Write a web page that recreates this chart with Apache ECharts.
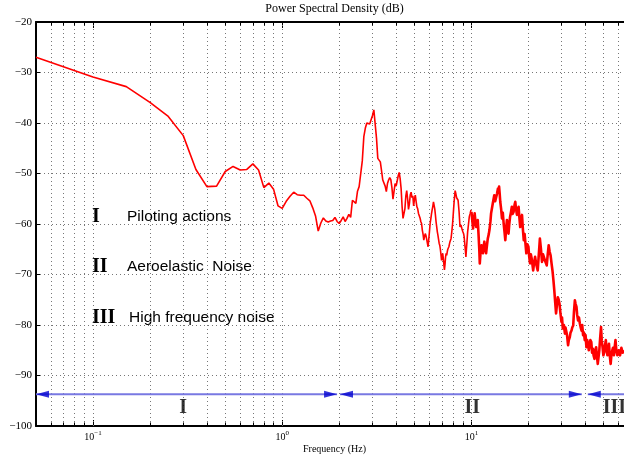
<!DOCTYPE html>
<html><head><meta charset="utf-8">
<script src="https://cdn.jsdelivr.net/npm/echarts@6/dist/echarts.min.js"></script>
<style>html,body{margin:0;padding:0;background:#fff}#c{width:624px;height:459px}</style>
</head><body><div id="c"></div>
<script>
// ---- data ----
const freqLow = [
0.05,0.10,0.15,0.20,0.25,0.30,0.35,0.40,0.45,0.50,
0.55,0.60,0.65,0.70,0.75,0.80,0.85,0.90,0.95,1.00,
1.05,1.10,1.15,1.20,1.25,1.30,1.35,1.40,1.45,1.50,
1.55,1.60,1.65,1.70,1.75,1.80,1.85,1.90,1.95,2.00,
2.05,2.10,2.15,2.20,2.25,2.30,2.35,2.40,2.45,2.50,
2.55,2.60,2.65,2.70,2.75,2.80,2.85,2.90,2.95,3.00,
3.05,3.10,3.15,3.20,3.25,3.30,3.35,3.40,3.45,3.50,
3.55,3.60,3.65,3.70,3.75,3.80,3.85,3.90,3.95,4.00,
4.05,4.10,4.15,4.20,4.25,4.30,4.35,4.40,4.45,4.50,
4.55,4.60,4.65,4.70,4.75,4.80,4.85,4.90,4.95,5.00,
5.05,5.10,5.15,5.20,5.25,5.30,5.35,5.40,5.45,5.50,
5.55,5.60,5.65,5.70,5.75,5.80,5.85,5.90,5.95,6.00,
6.05,6.10,6.15,6.20,6.25,6.30,6.35,6.40,6.45,6.50,
6.55,6.60,6.65,6.70,6.75,6.80,6.85,6.90,6.95,7.00,
7.05,7.10,7.15,7.20,7.25,7.30,7.35,7.40,7.45,7.50,
7.55,7.60,7.65,7.70,7.75,7.80,7.85,7.90,7.95,8.00,
8.05,8.10,8.15,8.20,8.25,8.30,8.35,8.40,8.45,8.50,
8.55,8.60,8.65,8.70,8.75,8.80,8.85,8.90,8.95,9.00,
9.05,9.10,9.15,9.20,9.25,9.30,9.35,9.40,9.45,9.50,
9.55,9.60,9.65,9.70,9.75,9.80,9.85,9.90,9.95,10.00
];
const psdLow = [
-27.0,-30.9,-32.8,-35.9,-38.7,-42.5,-49.2,-52.6,-52.5,-49.6,
-48.6,-49.3,-49.2,-48.1,-49.3,-52.8,-51.9,-53.1,-56.4,-56.9,
-55.5,-54.5,-53.7,-54.2,-54.3,-54.3,-54.9,-55.4,-56.8,-58.4,
-61.4,-59.8,-58.8,-59.4,-59.6,-59.4,-59.3,-58.7,-59.5,-59.9,
-59.3,-58.6,-59.5,-58.9,-58.1,-58.7,-55.3,-55.2,-55.9,-53.5,
-52.6,-52.6,-47.5,-42.7,-41.0,-40.0,-39.8,-40.2,-40.4,-38.5,
-37.4,-37.3,-43.0,-47.0,-47.2,-47.7,-49.5,-51.3,-51.4,-52.5,
-53.6,-52.0,-51.3,-50.8,-51.2,-52.8,-55.1,-53.5,-52.0,-52.5,
-52.6,-50.5,-49.8,-51.0,-53.0,-56.5,-58.9,-59.2,-57.0,-54.5,
-53.4,-55.0,-57.1,-56.0,-54.2,-53.7,-54.8,-54.4,-56.4,-55.0,
-54.3,-55.5,-56.6,-57.0,-57.9,-57.9,-58.8,-59.5,-59.9,-61.2,
-62.0,-63.2,-62.5,-61.9,-62.3,-63.0,-63.8,-64.5,-63.0,-61.5,
-59.9,-59.0,-58.0,-57.2,-56.5,-55.6,-55.8,-57.0,-58.2,-59.5,
-60.5,-61.5,-62.2,-63.0,-63.8,-64.2,-65.0,-66.0,-67.2,-66.5,
-65.8,-66.8,-68.0,-69.1,-68.0,-66.5,-65.8,-66.2,-65.5,-65.0,
-64.8,-64.5,-64.0,-63.5,-63.2,-62.9,-62.0,-61.0,-59.9,-58.5,
-57.0,-55.6,-54.5,-53.4,-53.8,-54.0,-54.8,-54.5,-55.0,-55.3,
-55.6,-57.5,-59.0,-60.6,-60.4,-60.2,-60.5,-60.9,-61.2,-61.5,
-61.8,-62.0,-62.5,-63.5,-64.5,-65.5,-66.5,-65.2,-64.0,-62.8,
-61.5,-60.8,-60.0,-59.2,-58.5,-58.2,-57.9,-57.5,-57.2,-57.6
];
const freqHigh = [
10.0,10.2,10.3,10.4,10.5,10.6,10.7,10.8,10.9,11.0,11.07,
11.2,11.3,11.4,11.5,11.6,11.7,11.8,11.95,12.1,12.2,
12.35,12.45,12.6,12.7,12.85,12.97,13.1,13.2,13.35,13.5,
13.65,13.8,13.9,14.0,14.1,14.2,14.35,14.5,14.65,14.8,
14.95,15.1,15.25,15.4,15.55,15.7,15.85,16.0,16.2,16.35,
16.5,16.7,16.9,17.05,17.2,17.4,17.6,17.75,17.9,18.1,
18.3,18.5,18.7,18.9,19.1,19.3,19.5,19.75,20.0,20.2,
20.4,20.6,20.8,21.0,21.2,21.45,21.7,22.0,22.4,22.7,
23.0,23.3,23.6,23.9,24.3,24.6,25.0,25.3,25.6,25.9,
26.2,26.5,26.8,27.1,27.4,27.7,28.0,28.3,28.6,28.9,
29.2,29.5,29.9,30.1,30.4,30.8,31.2,31.4,31.7,32.0,
32.4,32.7,33.1,33.4,33.8,34.1,34.5,34.8,35.2,35.5,
35.9,36.2,36.6,37.0,37.4,37.8,38.2,38.5,38.9,39.3,
39.7,40.1,40.5,40.9,41.3,41.7,42.1,42.5,43.0,43.4,
43.8,44.2,44.7,45.1,45.6,46.0,46.5,46.9,47.4,47.9,
48.4,48.8,49.3,49.8,50.3,50.8,51.3,51.8,52.3,52.8,
53.3,53.8,54.4,54.9,55.5,56.0,56.6,57.1,57.7,58.3,
59.0,60.0,61.0,62.0,63.0,64.0
];
const psdHigh = [
-57.6,-60.9,-59.0,-57.9,-59.5,-60.6,-59.8,-59.2,-62.0,-65.0,-67.8,
-65.0,-64.2,-65.2,-65.8,-64.5,-63.5,-64.8,-65.8,-64.0,-62.9,
-62.0,-61.2,-59.5,-57.9,-56.8,-55.9,-55.0,-54.3,-55.5,-55.2,
-54.0,-53.0,-53.8,-52.6,-54.0,-55.6,-57.0,-58.9,-57.8,-59.9,
-61.5,-63.2,-61.0,-59.2,-60.5,-61.9,-60.0,-58.6,-57.5,-56.6,
-58.0,-57.6,-56.2,-55.6,-57.0,-58.2,-57.0,-56.6,-58.5,-60.6,
-59.0,-58.2,-61.0,-63.2,-62.0,-62.2,-65.8,-64.0,-64.5,-66.5,
-67.8,-66.0,-66.8,-68.0,-69.2,-67.5,-66.5,-68.0,-69.2,-66.0,
-62.9,-65.0,-67.5,-66.0,-66.2,-67.5,-68.2,-66.0,-64.2,-65.5,
-66.2,-67.8,-69.2,-71.0,-73.1,-75.5,-77.7,-76.0,-74.5,-75.0,
-75.8,-77.5,-79.4,-78.5,-80.7,-80.0,-81.7,-80.5,-80.4,-82.0,
-84.0,-83.0,-82.4,-81.5,-81.1,-80.5,-80.1,-77.5,-75.1,-75.8,
-76.4,-78.0,-79.1,-78.5,-79.7,-80.5,-81.1,-80.0,-82.0,-81.5,
-83.0,-82.0,-84.4,-83.0,-83.7,-85.0,-84.7,-83.0,-83.4,-85.5,
-84.7,-86.0,-86.7,-85.0,-84.4,-86.0,-87.7,-86.5,-85.0,-82.5,
-80.4,-83.0,-84.4,-86.0,-85.4,-84.0,-83.0,-85.0,-86.0,-85.0,
-83.7,-86.0,-87.7,-86.0,-85.0,-84.5,-86.0,-84.5,-83.0,-85.0,
-86.0,-85.0,-86.0,-84.5,-85.5,-85.0
];
const gridFreqs = [0.06,0.07,0.08,0.09,0.1,0.2,0.3,0.4,0.5,0.6,0.7,0.8,0.9,1,2,3,4,5,6,7,8,9,10,20,30,40,50,60];
const majorFreqs = [0.1,1,10];
const bandNames = ['I','II','III'];
const bandStart = [0.05,2.02,41.2];
const bandEnd = [1.95,38.3,80];
const bandLabelFreq = [0.30,10.1,57.0];
const legendNumerals = ['I','II','III'];
const legendTexts = ['Piloting actions','Aeroelastic  Noise','High frequency noise'];
const arrowLevel = -93.7;
const bandLabelLevel = -96.5;

// ---- chart ----
const serif = '"Liberation Serif","Times New Roman",serif';
const sans = '"Liberation Sans",Arial,sans-serif';
const curveLow = freqLow.map((f, i) => [f, psdLow[i]]);
const curveHigh = freqHigh.map((f, i) => [f, psdHigh[i]]);
const minorFreqs = gridFreqs.filter(f => majorFreqs.indexOf(f) < 0);

function xLabel(v) {
  const e = Math.log10(v), r = Math.round(e);
  if (Math.abs(e - r) > 1e-6) return '';
  return '{a|10}{b|' + String(r).replace('-', '\u2212') + '}';
}
const dotted = {color: '#777', width: 1, type: [1, 3]};
const xCommon = {
  type: 'log', logBase: 10, min: 0.05, max: 64,
  axisLine: {show: true, lineStyle: {color: '#000', width: 2}},
  axisTick: {show: true, inside: true, length: 6, lineStyle: {color: '#000', width: 1}},
  splitLine: {show: false}, minorTick: {show: false}, minorSplitLine: {show: false}
};
const series = [];
series.push({
  type: 'line', data: [], silent: true, z: 1,
  markLine: {silent: true, symbol: 'none', label: {show: false}, animation: false,
    lineStyle: dotted, data: gridFreqs.map(f => ({xAxis: f}))}
});
const tickSegs = [];
minorFreqs.forEach(f => {
  tickSegs.push([{coord: [f, -100]}, {coord: [f, -99.3]}]);
  tickSegs.push([{coord: [f, -20]}, {coord: [f, -20.7]}]);
});
series.push({
  type: 'line', data: [], silent: true, z: 2,
  markLine: {silent: true, symbol: 'none', label: {show: false}, animation: false,
    lineStyle: {color: '#000', width: 1, type: 'solid'}, data: tickSegs}
});
series.push({
  type: 'line', data: curveLow, showSymbol: false, symbol: 'none', z: 5,
  lineStyle: {color: '#ff0000', width: 1.6}, animation: false
});
series.push({
  type: 'line', data: curveHigh, showSymbol: false, symbol: 'none', z: 5,
  lineStyle: {color: '#ff0000', width: 2.6, join: 'round'}, animation: false
});
bandNames.forEach((n, i) => {
  series.push({
    type: 'line', data: [[bandStart[i], arrowLevel], [bandEnd[i], arrowLevel]],
    symbol: 'none', z: 6, animation: false,
    lineStyle: {color: '#7878e2', width: 2}
  });
});
series.push({
  type: 'scatter', z: 7, animation: false, silent: true,
  symbol: 'path://M13,0L0,3.5L13,7Z', symbolSize: [13, 7], symbolKeepAspect: false,
  symbolOffset: [6.5, 0], itemStyle: {color: '#0000d0'},
  data: bandStart.map(f => [f, arrowLevel])
});
series.push({
  type: 'scatter', z: 7, animation: false, silent: true,
  symbol: 'path://M0,0L13,3.5L0,7Z', symbolSize: [13, 7], symbolKeepAspect: false,
  symbolOffset: [-6.5, 0], itemStyle: {color: '#0000d0'},
  data: bandEnd.map(f => [f, arrowLevel])
});
series.push({
  type: 'scatter', z: 8, animation: false, silent: true, symbolSize: 0,
  data: bandNames.map((n, i) => ({value: [bandLabelFreq[i], bandLabelLevel], name: n})),
  label: {show: true, position: 'inside', formatter: p => p.name,
    fontFamily: serif, fontWeight: 'bold', fontSize: 20, color: '#000'}
});

const graphics = [
  {type: 'text', x: 334.5, y: 9, style: {text: 'Power Spectral Density (dB)', font: '12px ' + serif,
    fill: '#000', textAlign: 'center', textVerticalAlign: 'middle', align: 'center', verticalAlign: 'middle'}},
  {type: 'text', x: 334.5, y: 449, style: {text: 'Frequency (Hz)', font: '10px ' + serif,
    fill: '#000', textAlign: 'center', textVerticalAlign: 'middle', align: 'center', verticalAlign: 'middle'}}
];
const legY = [217, 267, 318];
const legTx = [127, 127, 129];
legendNumerals.forEach((n, i) => {
  graphics.push({type: 'text', x: 92, y: legY[i], style: {text: n, font: 'bold 20px ' + serif, fill: '#000',
    textAlign: 'left', textVerticalAlign: 'middle', align: 'left', verticalAlign: 'middle'}});
  graphics.push({type: 'text', x: legTx[i], y: legY[i], style: {text: legendTexts[i], font: '15.5px ' + sans, fill: '#000',
    textAlign: 'left', textVerticalAlign: 'middle', align: 'left', verticalAlign: 'middle'}});
});

const chart = echarts.init(document.getElementById('c'), null, {renderer: 'canvas'});
chart.setOption({
  animation: false,
  backgroundColor: '#fff',
  grid: {left: 36, top: 22, right: -9, bottom: 33, containLabel: false},
  xAxis: [
    Object.assign({}, xCommon, {position: 'bottom',
      axisLabel: {show: true, margin: 4, showMinLabel: false, showMaxLabel: false, formatter: xLabel,
        color: '#000', rich: {a: {fontFamily: serif, fontSize: 10, color: '#000'},
          b: {fontFamily: serif, fontSize: 7, color: '#000', padding: [0, 0, 7, 0]}}}}),
    Object.assign({}, xCommon, {position: 'top', axisLabel: {show: false}})
  ],
  yAxis: {
    type: 'value', min: -100, max: -20, interval: 10,
    axisLine: {show: true, lineStyle: {color: '#000', width: 2}},
    axisTick: {show: true, inside: true, length: 4, lineStyle: {color: '#000'}},
    axisLabel: {color: '#000', fontFamily: serif, fontSize: 11, margin: 4,
      formatter: v => String(v).replace('-', '\u2212')},
    splitLine: {show: true, lineStyle: dotted}
  },
  series: series,
  graphic: graphics
});
</script></body></html>
